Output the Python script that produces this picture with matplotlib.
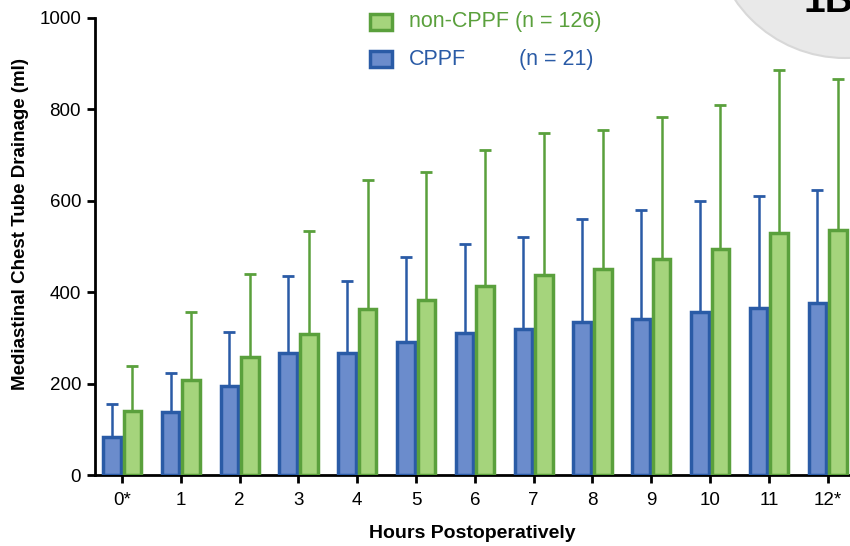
import matplotlib
matplotlib.use("Agg")
import matplotlib.pyplot as plt
import numpy as np
from matplotlib.patches import Circle, Rectangle

plt.rcParams['font.family'] = ['Liberation Sans', 'DejaVu Sans']

# data
hours = ['0*', '1', '2', '3', '4', '5', '6', '7', '8', '9', '10', '11', '12*']
cppf_mean = [83, 138, 195, 267, 267, 291, 311, 319, 335, 341, 357, 365, 376]
cppf_upper = [155, 223, 313, 435, 425, 477, 505, 521, 560, 580, 600, 610, 624]
noncppf_mean = [140, 208, 258, 309, 363, 383, 414, 438, 451, 473, 495, 530, 536]
noncppf_upper = [238, 357, 440, 534, 646, 663, 711, 748, 755, 783, 810, 886, 867]

blue_fill, blue_edge = '#6b8ccc', '#2a5ba6'
green_fill, green_edge = '#a5d47c', '#5aa03c'

fig = plt.figure(figsize=(8.5, 5.46), dpi=100)
ax = fig.add_axes([95 / 850, 1 - 475 / 546, 1 - 95 / 850, (475 - 18) / 546])

x = np.arange(len(hours))
w = 0.30
off = 0.175

cppf_err = np.array(cppf_upper) - np.array(cppf_mean)
non_err = np.array(noncppf_upper) - np.array(noncppf_mean)

ax.bar(x - off, cppf_mean, w, color=blue_fill, edgecolor=blue_edge, linewidth=2.5, zorder=3)
ax.errorbar(x - off, cppf_mean, yerr=[np.zeros_like(cppf_err), cppf_err], fmt='none',
            ecolor=blue_edge, elinewidth=1.8, capsize=4, capthick=2, zorder=2)
ax.bar(x + off, noncppf_mean, w, color=green_fill, edgecolor=green_edge, linewidth=2.5, zorder=3)
ax.errorbar(x + off, noncppf_mean, yerr=[np.zeros_like(non_err), non_err], fmt='none',
            ecolor=green_edge, elinewidth=1.8, capsize=4, capthick=2, zorder=2)

ax.set_xlim(-0.46, 12.38)
ax.set_ylim(0, 1000)
ax.set_yticks(range(0, 1001, 200))
ax.set_xticks(x)
ax.set_xticklabels(hours)
ax.tick_params(labelsize=13.5, width=2, length=6, pad=4)
ax.tick_params(axis='x', pad=6)
for s in ['top', 'right']:
    ax.spines[s].set_visible(False)
for s in ['left', 'bottom']:
    ax.spines[s].set_linewidth(2)

ax.set_ylabel('Mediastinal Chest Tube Drainage (ml)', fontsize=13.5, fontweight='bold')
ax.yaxis.set_label_coords(-0.088, 0.55)
ax.set_xlabel('Hours Postoperatively', fontsize=14, fontweight='bold', labelpad=12)

# legend drawn by hand
def fx(px):
    return px / 850
def fy(py):
    return 1 - py / 546

fig.patches.append(Rectangle((fx(370), fy(30)), 22 / 850, 16 / 546, transform=fig.transFigure,
                             facecolor=green_fill, edgecolor=green_edge, linewidth=2.5))
fig.patches.append(Rectangle((fx(370), fy(67)), 22 / 850, 16 / 546, transform=fig.transFigure,
                             facecolor=blue_fill, edgecolor=blue_edge, linewidth=2.5))
fig.text(fx(409), fy(22), 'non-CPPF (n = 126)', color=green_edge, fontsize=15.5, va='center')
fig.text(fx(409), fy(59), 'CPPF', color=blue_edge, fontsize=15.5, va='center')
fig.text(fx(519), fy(59), '(n = 21)', color=blue_edge, fontsize=15.5, va='center')

# panel badge in the corner
fig.patches.append(Circle((845, 546 + 75), 133, transform=None, facecolor='#e9e9e9',
                          edgecolor='#d8d8d8', linewidth=1.5, zorder=5))
fig.text(fx(803), fy(12), '1B', fontsize=28, fontweight='bold', color='black', va='baseline', zorder=6)

fig.savefig('out.png', dpi=100)
